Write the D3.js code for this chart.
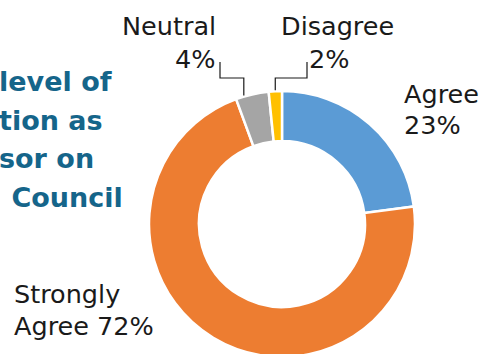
<!DOCTYPE html>
<html>
<head>
<meta charset="utf-8">
<script src="https://cdn.jsdelivr.net/npm/d3@7"></script>
<style>
  body { margin: 0; background: #fff; }
  svg { display: block; }
  .label { font-family: 'DejaVu Sans', sans-serif; font-size: 25.5px; fill: #1a1a1a; }
  .title { font-family: 'DejaVu Sans', sans-serif; font-weight: bold; font-size: 27px; fill: #15658a; }
</style>
</head>
<body>
<div id="chart"></div>
<script>
// data
var categories = ['Agree', 'Strongly Agree', 'Neutral', 'Disagree'];
var values = [22.9, 71.5, 4.0, 1.6];
var colors = ['#5b9bd5', '#ed7d31', '#a5a5a5', '#ffc000'];
var titleLines = ['level of', 'tion as', 'sor on', ' Council'];

var width = 499, height = 354;
var cx = 282, cy = 224;
var outerR = 133, innerR = 83;

var svg = d3.select('#chart')
    .append('svg')
    .attr('width', width)
    .attr('height', height);

// TITLE (clipped off on the left in the source)
svg.append('g')
    .selectAll('text').data(titleLines).enter()
    .append('text')
    .attr('class', 'title')
    .attr('x', function(d, i) { return i === 3 ? 2 : -1; })
    .attr('y', function(d, i) { return 91 + i * 38.5; })
    .attr('xml:space', 'preserve')
    .text(function(d) { return d; });

// DONUT
var pie = d3.pie().sort(null).value(function(d) { return d; });
var arc = d3.arc().innerRadius(innerR).outerRadius(outerR);
var slices = pie(values);

var donut = svg.append('g')
    .attr('transform', 'translate(' + cx + ',' + cy + ')');

donut.selectAll('path')
    .data(slices).enter()
    .append('path')
    .attr('d', arc)
    .attr('fill', function(d, i) { return colors[i]; })
    .attr('stroke', '#fff')
    .attr('stroke-width', 2.5);

// LABELS
var pct = function(v) { return Math.round(v) + '%'; };
var labelLayout = [
    { lines: [{ x: 404, y: 103 }, { x: 404, y: 134 }] },
    { lines: [{ x: 14, y: 303 }, { x: 14, y: 335 }] },
    { lines: [{ x: 122, y: 35 }, { x: 175, y: 68 }], leader: { x: 220, y: 62, elbowY: 78, at: 0.25 } },
    { lines: [{ x: 281, y: 35 }, { x: 309, y: 68 }], leader: { x: 307, y: 62, elbowY: 78, at: 0.5 } }
];

var labelText = function(i) {
    if (i === 1) {
        return ['Strongly', 'Agree ' + pct(values[i])];
    }
    return [categories[i], pct(values[i])];
};

labelLayout.forEach(function(layout, i) {
    var texts = labelText(i);
    svg.append('g')
        .selectAll('text').data(texts).enter()
        .append('text')
        .attr('class', 'label')
        .attr('x', function(d, j) { return layout.lines[j].x; })
        .attr('y', function(d, j) { return layout.lines[j].y; })
        .text(function(d) { return d; });

    if (layout.leader) {
        var s = slices[i];
        var l = layout.leader;
        var a = s.startAngle + (s.endAngle - s.startAngle) * l.at;
        var px = cx + (outerR + 1) * Math.sin(a);
        var py = cy - (outerR + 1) * Math.cos(a);
        svg.append('polyline')
            .attr('points', [[l.x, l.y], [l.x, l.elbowY], [px, l.elbowY], [px, py]].join(' '))
            .attr('fill', 'none')
            .attr('stroke', '#1a1a1a')
            .attr('stroke-width', 1.2);
    }
});
</script>
</body>
</html>
